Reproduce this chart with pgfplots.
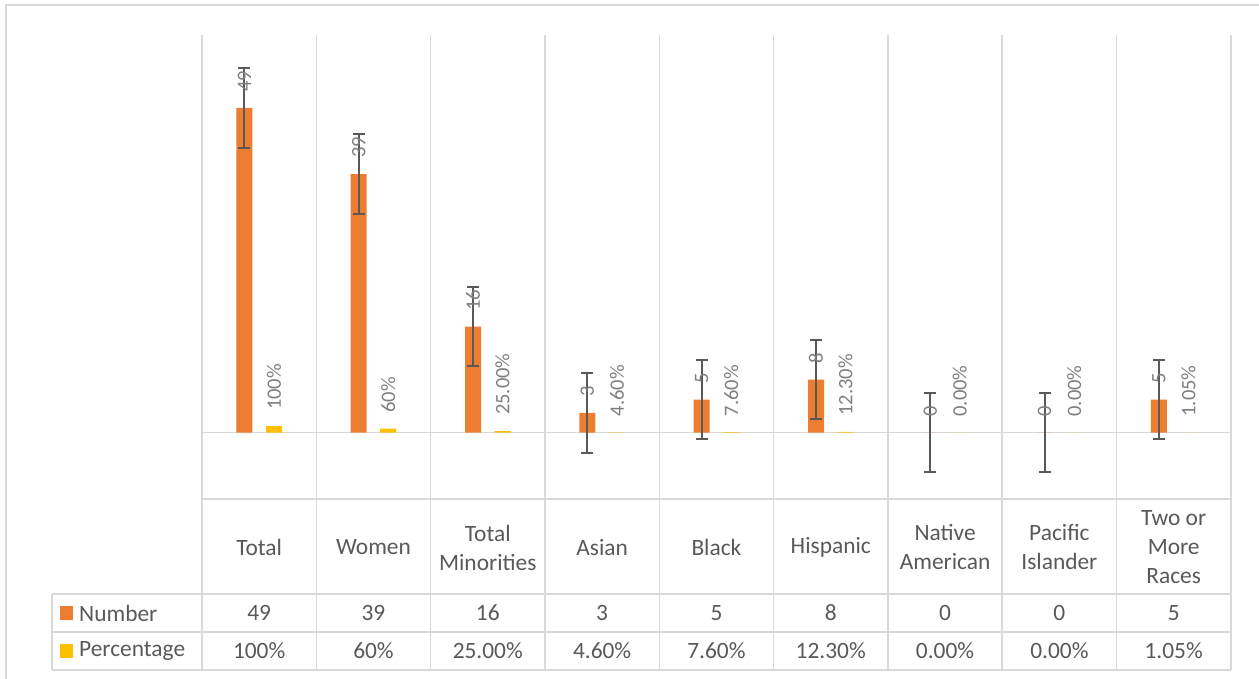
\documentclass[border=0pt]{standalone}
\usepackage{fontspec}
\setmainfont{Carlito}
\usepackage{pgfplots}
\pgfplotsset{compat=1.18}
\usepackage{pgfplotstable}

\definecolor{numC}{HTML}{ED7D31}
\definecolor{pctC}{HTML}{FFC000}
\definecolor{gridC}{HTML}{D9D9D9}
\definecolor{txtC}{HTML}{595959}
\definecolor{labC}{HTML}{7F7F7F}
\definecolor{errC}{HTML}{595959}

% x = category index, num = Number, pct = Percentage (as fraction)
\pgfplotstableread{
x num numlab pct pctlab
0 49 49 1.000 100
1 39 39 0.600 60
2 16 16 0.250 25.00
3 3 3 0.046 4.60
4 5 5 0.076 7.60
5 8 8 0.123 12.30
6 0 0 0.000 0.00
7 0 0 0.000 0.00
8 5 5 0.0105 1.05
}\datatable

\newcommand\tabfont{\fontsize{23.4pt}{29pt}\selectfont}
% one column of the data table: index, number, percentage
\newcommand\tabcol[3]{%
  \node[text=txtC, font=\tabfont] at ([yshift=-114pt]axis cs:#1,-10) {#2};
  \node[text=txtC, font=\tabfont] at ([yshift=-152pt]axis cs:#1,-10) {#3};}

\begin{document}
\begin{tikzpicture}
\begin{axis}[
    set layers,
    scale only axis,
    width=1029pt, height=464pt,
    xmin=-0.5, xmax=8.5,
    ymin=-10, ymax=60,
    clip=false,
    axis line style={draw=none},
    major tick length=0pt,
    ytick=\empty,
    xtick={0,...,8},
    xticklabels={Total, Women, {Total\\Minorities}, Asian, Black, Hispanic,
        {Native\\American}, {Pacific\\Islander}, {Two or\\More\\Races}},
    xticklabel style={font=\tabfont, text=txtC,
        align=center, anchor=center, yshift=-48.5pt},
    ybar=13.5pt,
    bar width=16pt,
    nodes near coords style={rotate=90, anchor=west, inner xsep=16pt,
        inner ysep=0pt, text=labC, font=\fontsize{20.5pt}{24pt}\selectfont},
]

\begin{pgfonlayer}{axis background}
  % vertical cell borders, through the data table
  \pgfplotsinvokeforeach{-0.5,0.5,...,8.5}{
    \draw[gridC, line width=1.5pt] (axis cs:#1,60) -- ([yshift=-171pt]axis cs:#1,-10);
  }
  % zero line and plot bottom
  \draw[gridC, line width=1.5pt] (axis cs:-0.5,0) -- (axis cs:8.5,0);
  \draw[gridC, line width=1.5pt] (axis cs:-0.5,-10) -- (axis cs:8.5,-10);
  % table rows
  \pgfplotsinvokeforeach{95,133,171}{
    \draw[gridC, line width=1.5pt] ([xshift=-150pt,yshift=-#1pt]axis cs:-0.5,-10)
        -- ([yshift=-#1pt]axis cs:8.5,-10);
  }
  \draw[gridC, line width=1.5pt] ([xshift=-150pt,yshift=-95pt]axis cs:-0.5,-10)
      -- ([xshift=-150pt,yshift=-171pt]axis cs:-0.5,-10);
\end{pgfonlayer}

% Number
\addplot[fill=numC, draw=none,
    point meta=explicit symbolic,
    nodes near coords,
    error bars/.cd, y dir=both, y fixed=6,
    error bar style={draw=errC, line width=2pt},
    error mark options={draw=errC, line width=2pt, mark size=6pt, rotate=90},
] table[x=x, y=num, meta=numlab] {\datatable};

% Percentage
\addplot[fill=pctC, draw=none,
    point meta=explicit symbolic,
    nodes near coords={\pgfplotspointmeta\%},
] table[x=x, y=pct, meta=pctlab] {\datatable};

% data table: legend keys and row names
\fill[numC] ([xshift=-142pt,yshift=-121pt]axis cs:-0.5,-10) rectangle ++(13pt,14pt);
\fill[pctC] ([xshift=-142pt,yshift=-159pt]axis cs:-0.5,-10) rectangle ++(13pt,14pt);
\node[anchor=west, inner sep=0pt, text=txtC, font=\tabfont]
    at ([xshift=-123pt,yshift=-114pt]axis cs:-0.5,-10) {Number};
\node[anchor=west, inner sep=0pt, text=txtC, font=\tabfont]
    at ([xshift=-123pt,yshift=-152pt]axis cs:-0.5,-10) {Percentage};
\tabcol{0}{49}{100\%}
\tabcol{1}{39}{60\%}
\tabcol{2}{16}{25.00\%}
\tabcol{3}{3}{4.60\%}
\tabcol{4}{5}{7.60\%}
\tabcol{5}{8}{12.30\%}
\tabcol{6}{0}{0.00\%}
\tabcol{7}{0}{0.00\%}
\tabcol{8}{5}{1.05\%}
\end{axis}

\pgfresetboundingbox
\useasboundingbox (-202pt,-180pt) rectangle (1057pt,499pt);
% chart area frame (top and left edges visible)
\draw[gridC, line width=1.5pt] (-196pt,-180pt) -- (-196pt,494pt) -- (1060pt,494pt);
\end{tikzpicture}
\end{document}
